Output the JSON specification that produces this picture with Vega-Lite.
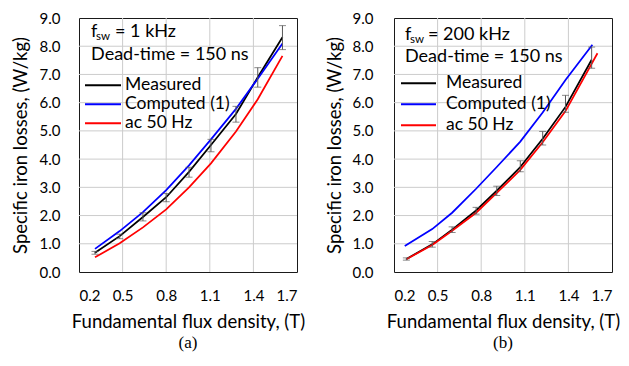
{
  "$schema": "https://vega.github.io/schema/vega-lite/v6.json",
  "background": "white",
  "padding": {"left": 10, "top": 10, "right": 5, "bottom": 5},
  "config": {
    "font": "Lato",
    "view": {"stroke": "#1a1a1a", "strokeWidth": 1},
    "axis": {"labelFont": "Lato", "labelFontSize": 15, "labelColor": "#000000", "titleFont": "Lato", "titleFontSize": 18.5, "titleFontWeight": "normal", "titleColor": "#000000", "grid": false, "domain": false, "ticks": false, "labelOverlap": false},
    "legend": {"labelFont": "Lato", "labelFontSize": 17.5, "labelColor": "#000000"},
    "concat": {"spacing": 18}
  },
  "datasets": {
    "a": [
      {"series": "Measured", "B": 0.31, "v": 0.68}, {"series": "Measured", "B": 0.48, "v": 1.27}, {"series": "Measured", "B": 0.64, "v": 1.95}, {"series": "Measured", "B": 0.8, "v": 2.65}, {"series": "Measured", "B": 0.957, "v": 3.55}, {"series": "Measured", "B": 1.108, "v": 4.5}, {"series": "Measured", "B": 1.28, "v": 5.6}, {"series": "Measured", "B": 1.43, "v": 6.9}, {"series": "Measured", "B": 1.6, "v": 8.32},
      {"series": "Computed (1)", "B": 0.31, "v": 0.82}, {"series": "Computed (1)", "B": 0.48, "v": 1.45}, {"series": "Computed (1)", "B": 0.64, "v": 2.12}, {"series": "Computed (1)", "B": 0.8, "v": 2.9}, {"series": "Computed (1)", "B": 0.957, "v": 3.78}, {"series": "Computed (1)", "B": 1.108, "v": 4.7}, {"series": "Computed (1)", "B": 1.28, "v": 5.78}, {"series": "Computed (1)", "B": 1.43, "v": 6.85}, {"series": "Computed (1)", "B": 1.6, "v": 8.1},
      {"series": "ac 50 Hz", "B": 0.31, "v": 0.52}, {"series": "ac 50 Hz", "B": 0.48, "v": 1.02}, {"series": "ac 50 Hz", "B": 0.64, "v": 1.58}, {"series": "ac 50 Hz", "B": 0.8, "v": 2.22}, {"series": "ac 50 Hz", "B": 0.957, "v": 3.0}, {"series": "ac 50 Hz", "B": 1.108, "v": 3.85}, {"series": "ac 50 Hz", "B": 1.28, "v": 4.98}, {"series": "ac 50 Hz", "B": 1.43, "v": 6.12}, {"series": "ac 50 Hz", "B": 1.6, "v": 7.66}
    ],
    "a_err": [
      {"B": 0.31, "lo": 0.63, "hi": 0.73}, {"B": 0.48, "lo": 1.18, "hi": 1.34}, {"B": 0.64, "lo": 1.81, "hi": 2.1}, {"B": 0.8, "lo": 2.49, "hi": 2.78}, {"B": 0.957, "lo": 3.36, "hi": 3.71}, {"B": 1.108, "lo": 4.26, "hi": 4.7}, {"B": 1.28, "lo": 5.31, "hi": 5.87}, {"B": 1.43, "lo": 6.55, "hi": 7.24}, {"B": 1.6, "lo": 7.88, "hi": 8.73}
    ],
    "b": [
      {"series": "Measured", "B": 0.285, "v": 0.46}, {"series": "Measured", "B": 0.463, "v": 0.98}, {"series": "Measured", "B": 0.6, "v": 1.5}, {"series": "Measured", "B": 0.765, "v": 2.18}, {"series": "Measured", "B": 0.907, "v": 2.88}, {"series": "Measured", "B": 1.069, "v": 3.72}, {"series": "Measured", "B": 1.223, "v": 4.72}, {"series": "Measured", "B": 1.38, "v": 5.85}, {"series": "Measured", "B": 1.56, "v": 7.52},
      {"series": "Computed (1)", "B": 0.274, "v": 0.92}, {"series": "Computed (1)", "B": 0.463, "v": 1.52}, {"series": "Computed (1)", "B": 0.6, "v": 2.1}, {"series": "Computed (1)", "B": 0.765, "v": 2.95}, {"series": "Computed (1)", "B": 0.907, "v": 3.72}, {"series": "Computed (1)", "B": 1.069, "v": 4.62}, {"series": "Computed (1)", "B": 1.223, "v": 5.65}, {"series": "Computed (1)", "B": 1.38, "v": 6.8}, {"series": "Computed (1)", "B": 1.565, "v": 8.05},
      {"series": "ac 50 Hz", "B": 0.285, "v": 0.45}, {"series": "ac 50 Hz", "B": 0.463, "v": 0.96}, {"series": "ac 50 Hz", "B": 0.6, "v": 1.46}, {"series": "ac 50 Hz", "B": 0.765, "v": 2.1}, {"series": "ac 50 Hz", "B": 0.907, "v": 2.8}, {"series": "ac 50 Hz", "B": 1.069, "v": 3.62}, {"series": "ac 50 Hz", "B": 1.223, "v": 4.6}, {"series": "ac 50 Hz", "B": 1.38, "v": 5.7}, {"series": "ac 50 Hz", "B": 1.6, "v": 7.75}
    ],
    "b_err": [
      {"B": 0.285, "lo": 0.42, "hi": 0.5}, {"B": 0.463, "lo": 0.88, "hi": 1.08}, {"B": 0.6, "lo": 1.4, "hi": 1.6}, {"B": 0.765, "lo": 2.05, "hi": 2.29}, {"B": 0.907, "lo": 2.71, "hi": 3.04}, {"B": 1.069, "lo": 3.55, "hi": 3.94}, {"B": 1.223, "lo": 4.5, "hi": 4.98}, {"B": 1.38, "lo": 5.66, "hi": 6.26}, {"B": 1.56, "lo": 7.22, "hi": 7.97}
    ],
    "gx": [{"g": 0.5}, {"g": 0.8}, {"g": 1.1}, {"g": 1.4}],
    "gy": [{"g": 1}, {"g": 2}, {"g": 3}, {"g": 4}, {"g": 5}, {"g": 6}, {"g": 7}, {"g": 8}],
    "one": [{}]
  },
  "hconcat": [
    {
      "width": 218,
      "height": 254,
      "title": {"text": "(a)", "orient": "bottom", "font": "Liberation Serif", "fontSize": 17, "fontWeight": "normal", "color": "#000000", "offset": 4},
      "layer": [
        {"data": {"name": "gx"}, "mark": {"type": "rule", "color": "#cccccc", "strokeWidth": 1}, "encoding": {
          "x": {"field": "g", "type": "quantitative", "scale": {"domain": [0.2, 1.7], "nice": false, "zero": false}, "axis": {"values": [0.2, 0.5, 0.8, 1.1, 1.4, 1.7], "format": ".1f", "title": "Fundamental flux density, (T)", "labelPadding": 16, "titlePadding": 9, "grid": false, "labelOverlap": false}}}},
        {"data": {"name": "gy"}, "mark": {"type": "rule", "color": "#cccccc", "strokeWidth": 1}, "encoding": {
          "y": {"field": "g", "type": "quantitative", "scale": {"domain": [0, 9], "nice": false}, "axis": {"values": [0, 1, 2, 3, 4, 5, 6, 7, 8, 9], "format": ".1f", "title": "Specific iron losses, (W/kg)", "labelPadding": 19, "titlePadding": 9, "grid": false, "labelOverlap": false}}}},
        {
          "data": {"name": "a"},
          "mark": {"type": "line", "strokeWidth": 1.75},
          "encoding": {
            "x": {"field": "B", "type": "quantitative", "scale": {"domain": [0.2, 1.7], "nice": false, "zero": false}, "axis": {"values": [0.2, 0.5, 0.8, 1.1, 1.4, 1.7], "format": ".1f", "title": "Fundamental flux density, (T)", "labelPadding": 16, "titlePadding": 9, "grid": false, "labelOverlap": false}},
            "y": {"field": "v", "type": "quantitative", "scale": {"domain": [0, 9], "nice": false}, "axis": {"values": [0, 1, 2, 3, 4, 5, 6, 7, 8, 9], "format": ".1f", "title": "Specific iron losses, (W/kg)", "labelPadding": 19, "titlePadding": 9, "grid": false, "labelOverlap": false}},
            "color": {"field": "series", "type": "nominal", "sort": ["Measured", "Computed (1)", "ac 50 Hz"], "scale": {"domain": ["Measured", "Computed (1)", "ac 50 Hz"], "range": ["#000000", "#0000ff", "#ff0000"]},
              "legend": {"orient": "none", "legendX": 5, "legendY": 58, "title": null, "symbolType": "stroke", "symbolSize": 1296, "symbolStrokeWidth": 2, "labelOffset": 3, "rowPadding": 0, "clipHeight": 18.5, "labelExpr": "datum.label == 'ac 50 Hz' ? datum.label : '\u00a0' + datum.label"}},
            "order": {"field": "B", "type": "quantitative"}
          }
        },
        {"data": {"name": "a_err"}, "mark": {"type": "rule", "color": "#595959", "strokeWidth": 1}, "encoding": {
          "x": {"field": "B", "type": "quantitative", "scale": {"domain": [0.2, 1.7], "nice": false, "zero": false}, "axis": {"values": [0.2, 0.5, 0.8, 1.1, 1.4, 1.7], "format": ".1f", "title": "Fundamental flux density, (T)", "labelPadding": 16, "titlePadding": 9, "grid": false, "labelOverlap": false}},
          "y": {"field": "lo", "type": "quantitative", "scale": {"domain": [0, 9], "nice": false}, "axis": {"values": [0, 1, 2, 3, 4, 5, 6, 7, 8, 9], "format": ".1f", "title": "Specific iron losses, (W/kg)", "labelPadding": 19, "titlePadding": 9, "grid": false, "labelOverlap": false}},
          "y2": {"field": "hi"}}},
        {"data": {"name": "a_err"}, "mark": {"type": "tick", "orient": "horizontal", "size": 7, "thickness": 1, "color": "#595959"}, "encoding": {
          "x": {"field": "B", "type": "quantitative", "scale": {"domain": [0.2, 1.7], "nice": false, "zero": false}, "axis": {"values": [0.2, 0.5, 0.8, 1.1, 1.4, 1.7], "format": ".1f", "title": "Fundamental flux density, (T)", "labelPadding": 16, "titlePadding": 9, "grid": false, "labelOverlap": false}},
          "y": {"field": "lo", "type": "quantitative", "scale": {"domain": [0, 9], "nice": false}, "axis": {"values": [0, 1, 2, 3, 4, 5, 6, 7, 8, 9], "format": ".1f", "title": "Specific iron losses, (W/kg)", "labelPadding": 19, "titlePadding": 9, "grid": false, "labelOverlap": false}}}},
        {"data": {"name": "a_err"}, "mark": {"type": "tick", "orient": "horizontal", "size": 7, "thickness": 1, "color": "#595959"}, "encoding": {
          "x": {"field": "B", "type": "quantitative", "scale": {"domain": [0.2, 1.7], "nice": false, "zero": false}, "axis": {"values": [0.2, 0.5, 0.8, 1.1, 1.4, 1.7], "format": ".1f", "title": "Fundamental flux density, (T)", "labelPadding": 16, "titlePadding": 9, "grid": false, "labelOverlap": false}},
          "y": {"field": "hi", "type": "quantitative", "scale": {"domain": [0, 9], "nice": false}, "axis": {"values": [0, 1, 2, 3, 4, 5, 6, 7, 8, 9], "format": ".1f", "title": "Specific iron losses, (W/kg)", "labelPadding": 19, "titlePadding": 9, "grid": false, "labelOverlap": false}}}},
        {"data": {"name": "one"}, "mark": {"type": "text", "align": "left", "baseline": "middle", "fontSize": 18, "font": "Lato", "color": "#000000"}, "encoding": {
          "x": {"datum": 0.283, "type": "quantitative", "scale": {"domain": [0.2, 1.7], "nice": false, "zero": false}, "axis": {"values": [0.2, 0.5, 0.8, 1.1, 1.4, 1.7], "format": ".1f", "title": "Fundamental flux density, (T)", "labelPadding": 16, "titlePadding": 9, "grid": false, "labelOverlap": false}},
          "y": {"datum": 8.5, "type": "quantitative", "scale": {"domain": [0, 9], "nice": false}, "axis": {"values": [0, 1, 2, 3, 4, 5, 6, 7, 8, 9], "format": ".1f", "title": "Specific iron losses, (W/kg)", "labelPadding": 19, "titlePadding": 9, "grid": false, "labelOverlap": false}},
          "text": {"value": "f"}}},
        {"data": {"name": "one"}, "mark": {"type": "text", "align": "left", "baseline": "middle", "fontSize": 11.5, "font": "Lato", "color": "#000000", "dx": 5, "dy": 5}, "encoding": {
          "x": {"datum": 0.283, "type": "quantitative", "scale": {"domain": [0.2, 1.7], "nice": false, "zero": false}, "axis": {"values": [0.2, 0.5, 0.8, 1.1, 1.4, 1.7], "format": ".1f", "title": "Fundamental flux density, (T)", "labelPadding": 16, "titlePadding": 9, "grid": false, "labelOverlap": false}},
          "y": {"datum": 8.5, "type": "quantitative", "scale": {"domain": [0, 9], "nice": false}, "axis": {"values": [0, 1, 2, 3, 4, 5, 6, 7, 8, 9], "format": ".1f", "title": "Specific iron losses, (W/kg)", "labelPadding": 19, "titlePadding": 9, "grid": false, "labelOverlap": false}},
          "text": {"value": "sw"}}},
        {"data": {"name": "one"}, "mark": {"type": "text", "align": "left", "baseline": "middle", "fontSize": 18, "font": "Lato", "color": "#000000", "dx": 24}, "encoding": {
          "x": {"datum": 0.283, "type": "quantitative", "scale": {"domain": [0.2, 1.7], "nice": false, "zero": false}, "axis": {"values": [0.2, 0.5, 0.8, 1.1, 1.4, 1.7], "format": ".1f", "title": "Fundamental flux density, (T)", "labelPadding": 16, "titlePadding": 9, "grid": false, "labelOverlap": false}},
          "y": {"datum": 8.5, "type": "quantitative", "scale": {"domain": [0, 9], "nice": false}, "axis": {"values": [0, 1, 2, 3, 4, 5, 6, 7, 8, 9], "format": ".1f", "title": "Specific iron losses, (W/kg)", "labelPadding": 19, "titlePadding": 9, "grid": false, "labelOverlap": false}},
          "text": {"value": "= 1 kHz"}}},
        {"data": {"name": "one"}, "mark": {"type": "text", "align": "left", "baseline": "middle", "fontSize": 18, "font": "Lato", "color": "#000000"}, "encoding": {
          "x": {"datum": 0.283, "type": "quantitative", "scale": {"domain": [0.2, 1.7], "nice": false, "zero": false}, "axis": {"values": [0.2, 0.5, 0.8, 1.1, 1.4, 1.7], "format": ".1f", "title": "Fundamental flux density, (T)", "labelPadding": 16, "titlePadding": 9, "grid": false, "labelOverlap": false}},
          "y": {"datum": 7.7, "type": "quantitative", "scale": {"domain": [0, 9], "nice": false}, "axis": {"values": [0, 1, 2, 3, 4, 5, 6, 7, 8, 9], "format": ".1f", "title": "Specific iron losses, (W/kg)", "labelPadding": 19, "titlePadding": 9, "grid": false, "labelOverlap": false}},
          "text": {"value": "Dead-time = 150 ns"}}}
      ]
    },
    {
      "width": 218,
      "height": 254,
      "title": {"text": "(b)", "orient": "bottom", "font": "Liberation Serif", "fontSize": 17, "fontWeight": "normal", "color": "#000000", "offset": 4},
      "layer": [
        {"data": {"name": "gx"}, "mark": {"type": "rule", "color": "#cccccc", "strokeWidth": 1}, "encoding": {
          "x": {"field": "g", "type": "quantitative", "scale": {"domain": [0.2, 1.7], "nice": false, "zero": false}, "axis": {"values": [0.2, 0.5, 0.8, 1.1, 1.4, 1.7], "format": ".1f", "title": "Fundamental flux density, (T)", "labelPadding": 16, "titlePadding": 9, "grid": false, "labelOverlap": false}}}},
        {"data": {"name": "gy"}, "mark": {"type": "rule", "color": "#cccccc", "strokeWidth": 1}, "encoding": {
          "y": {"field": "g", "type": "quantitative", "scale": {"domain": [0, 9], "nice": false}, "axis": {"values": [0, 1, 2, 3, 4, 5, 6, 7, 8, 9], "format": ".1f", "title": "Specific iron losses, (W/kg)", "labelPadding": 21, "titlePadding": 8, "grid": false, "labelOverlap": false}}}},
        {
          "data": {"name": "b"},
          "mark": {"type": "line", "strokeWidth": 1.75},
          "encoding": {
            "x": {"field": "B", "type": "quantitative", "scale": {"domain": [0.2, 1.7], "nice": false, "zero": false}, "axis": {"values": [0.2, 0.5, 0.8, 1.1, 1.4, 1.7], "format": ".1f", "title": "Fundamental flux density, (T)", "labelPadding": 16, "titlePadding": 9, "grid": false, "labelOverlap": false}},
            "y": {"field": "v", "type": "quantitative", "scale": {"domain": [0, 9], "nice": false}, "axis": {"values": [0, 1, 2, 3, 4, 5, 6, 7, 8, 9], "format": ".1f", "title": "Specific iron losses, (W/kg)", "labelPadding": 21, "titlePadding": 8, "grid": false, "labelOverlap": false}},
            "color": {"field": "series", "type": "nominal", "sort": ["Measured", "Computed (1)", "ac 50 Hz"], "scale": {"domain": ["Measured", "Computed (1)", "ac 50 Hz"], "range": ["#000000", "#0000ff", "#ff0000"]},
              "legend": {"orient": "none", "legendX": 6, "legendY": 55, "title": null, "symbolType": "stroke", "symbolSize": 1225, "symbolStrokeWidth": 2, "labelOffset": 9, "rowPadding": 0, "clipHeight": 20.5}},
            "order": {"field": "B", "type": "quantitative"}
          }
        },
        {"data": {"name": "b_err"}, "mark": {"type": "rule", "color": "#595959", "strokeWidth": 1}, "encoding": {
          "x": {"field": "B", "type": "quantitative", "scale": {"domain": [0.2, 1.7], "nice": false, "zero": false}, "axis": {"values": [0.2, 0.5, 0.8, 1.1, 1.4, 1.7], "format": ".1f", "title": "Fundamental flux density, (T)", "labelPadding": 16, "titlePadding": 9, "grid": false, "labelOverlap": false}},
          "y": {"field": "lo", "type": "quantitative", "scale": {"domain": [0, 9], "nice": false}, "axis": {"values": [0, 1, 2, 3, 4, 5, 6, 7, 8, 9], "format": ".1f", "title": "Specific iron losses, (W/kg)", "labelPadding": 21, "titlePadding": 8, "grid": false, "labelOverlap": false}},
          "y2": {"field": "hi"}}},
        {"data": {"name": "b_err"}, "mark": {"type": "tick", "orient": "horizontal", "size": 7, "thickness": 1, "color": "#595959"}, "encoding": {
          "x": {"field": "B", "type": "quantitative", "scale": {"domain": [0.2, 1.7], "nice": false, "zero": false}, "axis": {"values": [0.2, 0.5, 0.8, 1.1, 1.4, 1.7], "format": ".1f", "title": "Fundamental flux density, (T)", "labelPadding": 16, "titlePadding": 9, "grid": false, "labelOverlap": false}},
          "y": {"field": "lo", "type": "quantitative", "scale": {"domain": [0, 9], "nice": false}, "axis": {"values": [0, 1, 2, 3, 4, 5, 6, 7, 8, 9], "format": ".1f", "title": "Specific iron losses, (W/kg)", "labelPadding": 21, "titlePadding": 8, "grid": false, "labelOverlap": false}}}},
        {"data": {"name": "b_err"}, "mark": {"type": "tick", "orient": "horizontal", "size": 7, "thickness": 1, "color": "#595959"}, "encoding": {
          "x": {"field": "B", "type": "quantitative", "scale": {"domain": [0.2, 1.7], "nice": false, "zero": false}, "axis": {"values": [0.2, 0.5, 0.8, 1.1, 1.4, 1.7], "format": ".1f", "title": "Fundamental flux density, (T)", "labelPadding": 16, "titlePadding": 9, "grid": false, "labelOverlap": false}},
          "y": {"field": "hi", "type": "quantitative", "scale": {"domain": [0, 9], "nice": false}, "axis": {"values": [0, 1, 2, 3, 4, 5, 6, 7, 8, 9], "format": ".1f", "title": "Specific iron losses, (W/kg)", "labelPadding": 21, "titlePadding": 8, "grid": false, "labelOverlap": false}}}},
        {"data": {"name": "one"}, "mark": {"type": "text", "align": "left", "baseline": "middle", "fontSize": 18, "font": "Lato", "color": "#000000"}, "encoding": {
          "x": {"datum": 0.276, "type": "quantitative", "scale": {"domain": [0.2, 1.7], "nice": false, "zero": false}, "axis": {"values": [0.2, 0.5, 0.8, 1.1, 1.4, 1.7], "format": ".1f", "title": "Fundamental flux density, (T)", "labelPadding": 16, "titlePadding": 9, "grid": false, "labelOverlap": false}},
          "y": {"datum": 8.4, "type": "quantitative", "scale": {"domain": [0, 9], "nice": false}, "axis": {"values": [0, 1, 2, 3, 4, 5, 6, 7, 8, 9], "format": ".1f", "title": "Specific iron losses, (W/kg)", "labelPadding": 21, "titlePadding": 8, "grid": false, "labelOverlap": false}},
          "text": {"value": "f"}}},
        {"data": {"name": "one"}, "mark": {"type": "text", "align": "left", "baseline": "middle", "fontSize": 11.5, "font": "Lato", "color": "#000000", "dx": 5, "dy": 5}, "encoding": {
          "x": {"datum": 0.276, "type": "quantitative", "scale": {"domain": [0.2, 1.7], "nice": false, "zero": false}, "axis": {"values": [0.2, 0.5, 0.8, 1.1, 1.4, 1.7], "format": ".1f", "title": "Fundamental flux density, (T)", "labelPadding": 16, "titlePadding": 9, "grid": false, "labelOverlap": false}},
          "y": {"datum": 8.4, "type": "quantitative", "scale": {"domain": [0, 9], "nice": false}, "axis": {"values": [0, 1, 2, 3, 4, 5, 6, 7, 8, 9], "format": ".1f", "title": "Specific iron losses, (W/kg)", "labelPadding": 21, "titlePadding": 8, "grid": false, "labelOverlap": false}},
          "text": {"value": "sw"}}},
        {"data": {"name": "one"}, "mark": {"type": "text", "align": "left", "baseline": "middle", "fontSize": 18, "font": "Lato", "color": "#000000", "dx": 23}, "encoding": {
          "x": {"datum": 0.276, "type": "quantitative", "scale": {"domain": [0.2, 1.7], "nice": false, "zero": false}, "axis": {"values": [0.2, 0.5, 0.8, 1.1, 1.4, 1.7], "format": ".1f", "title": "Fundamental flux density, (T)", "labelPadding": 16, "titlePadding": 9, "grid": false, "labelOverlap": false}},
          "y": {"datum": 8.4, "type": "quantitative", "scale": {"domain": [0, 9], "nice": false}, "axis": {"values": [0, 1, 2, 3, 4, 5, 6, 7, 8, 9], "format": ".1f", "title": "Specific iron losses, (W/kg)", "labelPadding": 21, "titlePadding": 8, "grid": false, "labelOverlap": false}},
          "text": {"value": "= 200 kHz"}}},
        {"data": {"name": "one"}, "mark": {"type": "text", "align": "left", "baseline": "middle", "fontSize": 18, "font": "Lato", "color": "#000000"}, "encoding": {
          "x": {"datum": 0.276, "type": "quantitative", "scale": {"domain": [0.2, 1.7], "nice": false, "zero": false}, "axis": {"values": [0.2, 0.5, 0.8, 1.1, 1.4, 1.7], "format": ".1f", "title": "Fundamental flux density, (T)", "labelPadding": 16, "titlePadding": 9, "grid": false, "labelOverlap": false}},
          "y": {"datum": 7.62, "type": "quantitative", "scale": {"domain": [0, 9], "nice": false}, "axis": {"values": [0, 1, 2, 3, 4, 5, 6, 7, 8, 9], "format": ".1f", "title": "Specific iron losses, (W/kg)", "labelPadding": 21, "titlePadding": 8, "grid": false, "labelOverlap": false}},
          "text": {"value": "Dead-time = 150 ns"}}}
      ]
    }
  ],
  "resolve": {"scale": {"color": "independent"}, "legend": {"color": "independent"}}
}
